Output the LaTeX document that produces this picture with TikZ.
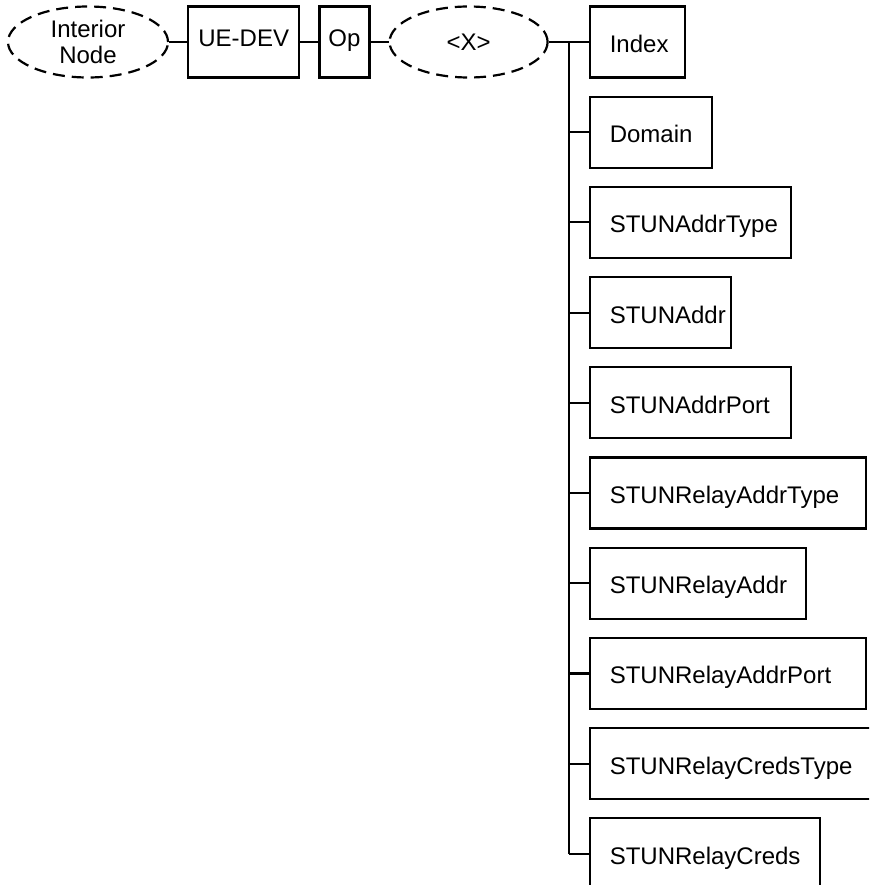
\documentclass[tikz,border=0pt]{standalone}
\usepackage{fontspec}
\setmainfont{Liberation Sans}
\usepackage{tikz}
\usetikzlibrary{shapes.geometric, positioning}
\tikzstyle{interior} = [ellipse, draw=black, dash pattern=on 12pt off 7pt, minimum width=160pt, minimum height=71pt, align=center, inner sep=0pt]
\tikzstyle{mgmt} = [rectangle, minimum height=71pt, text height=17pt, text depth=7pt, text centered, draw=black]
\tikzstyle{leaf} = [rectangle, minimum height=71pt, text height=22pt, text depth=1pt, inner xsep=0pt, draw=black]
\newcommand{\leaftext}[2]{\makebox[#1pt][l]{\hspace{20pt}#2}}

\begin{document}
\begin{tikzpicture}[x=1pt, y=-1pt, line width=2.2pt, font=\fontsize{24}{26}\selectfont]
  \useasboundingbox (0,0) rectangle (869,885);
  \clip (0,0) rectangle (869,885);

  % Top row
  \node (interior) [interior] at (88,42) {Interior\\Node};
  \node (uedev) [mgmt, minimum width=111pt, right=18pt of interior] {UE-DEV};
  \node (op) [mgmt, minimum width=50pt, right=18pt of uedev] {Op};
  \node (xnode) [interior, minimum width=158pt, right=18pt of op] {<X>};

  % Leaves under <X>
  \node (index) [leaf, right=40pt of xnode] {\leaftext{95}{Index}};
  \node (domain) [leaf, below=17pt of index.south west, anchor=north west] {\leaftext{122}{Domain}};
  \node (addrtype) [leaf, below=17pt of domain.south west, anchor=north west] {\leaftext{201}{STUNAddrType}};
  \node (addr) [leaf, below=17pt of addrtype.south west, anchor=north west] {\leaftext{141}{STUNAddr}};
  \node (addrport) [leaf, below=17pt of addr.south west, anchor=north west] {\leaftext{201}{STUNAddrPort}};
  \node (relaytype) [leaf, below=17pt of addrport.south west, anchor=north west] {\leaftext{276}{STUNRelayAddrType}};
  \node (relayaddr) [leaf, below=17pt of relaytype.south west, anchor=north west] {\leaftext{216}{STUNRelayAddr}};
  \node (relayport) [leaf, below=17pt of relayaddr.south west, anchor=north west] {\leaftext{276}{STUNRelayAddrPort}};
  \node (credstype) [leaf, below=17pt of relayport.south west, anchor=north west] {\leaftext{300}{STUNRelayCredsType}};
  \node (creds) [leaf, below=17pt of credstype.south west, anchor=north west] {\leaftext{230}{STUNRelayCreds}};

  % Connectors
  \draw (interior) -- (uedev);
  \draw (uedev) -- (op);
  \draw (op) -- (xnode);
  \draw (xnode) -- (index) coordinate[midway] (trunk);
  \draw (trunk) -- (trunk |- creds.west);
  \draw (trunk |- domain.west) -- (domain.west);
  \draw (trunk |- addrtype.west) -- (addrtype.west);
  \draw (trunk |- addr.west) -- (addr.west);
  \draw (trunk |- addrport.west) -- (addrport.west);
  \draw (trunk |- relaytype.west) -- (relaytype.west);
  \draw (trunk |- relayaddr.west) -- (relayaddr.west);
  \draw (trunk |- relayport.west) -- (relayport.west);
  \draw (trunk |- credstype.west) -- (credstype.west);
  \draw (trunk |- creds.west) -- (creds.west);

\end{tikzpicture}
\end{document}
